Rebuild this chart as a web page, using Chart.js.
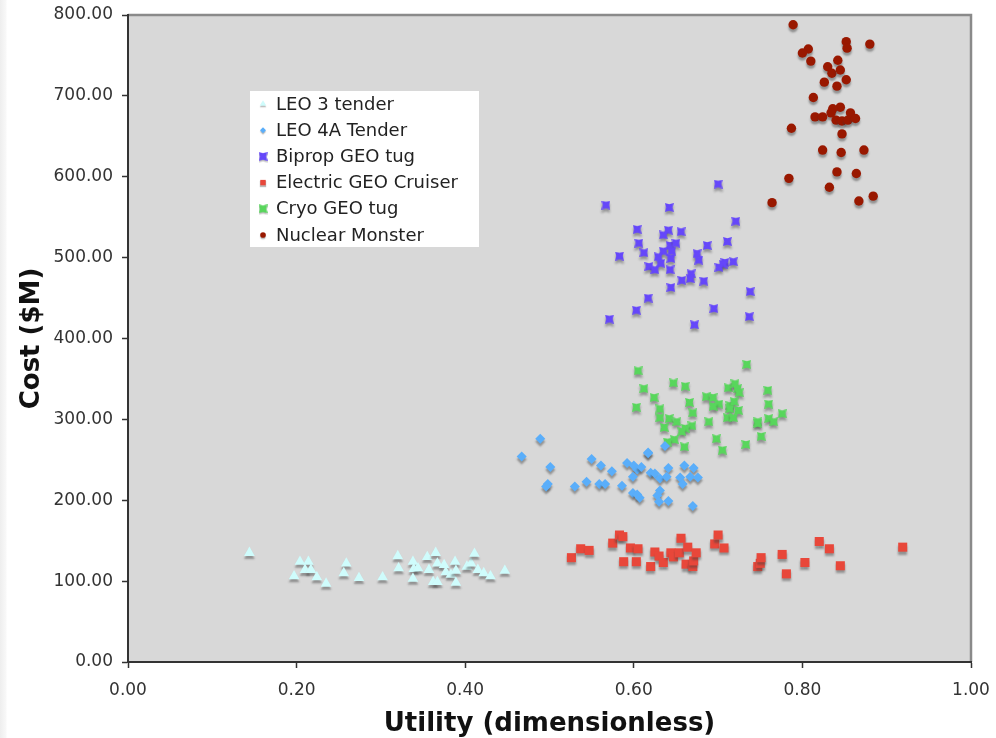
<!DOCTYPE html>
<html>
<head>
<meta charset="utf-8">
<script src="https://cdn.jsdelivr.net/npm/chart.js@4.4.1/dist/chart.umd.min.js"></script>
<style>
    html, body {
        margin: 0;
        padding: 0;
        background: linear-gradient(to right, #eeeeee 0px, #f8f8f8 6px, #ffffff 7px);
    }
    #wrap {
        width: 996px;
        height: 738px;
    }
</style>
</head>
<body>
<div id="wrap"><canvas id="chart" width="996" height="738"></canvas></div>
<script>
// [utility, cost in $M] for each architecture
const leo3Tender = [
    [0.144, 135], [0.204, 124], [0.214, 124], [0.197, 106], [0.210, 114], [0.217, 114],
    [0.224, 105], [0.235, 97], [0.259, 122], [0.256, 110], [0.274, 104], [0.302, 105],
    [0.320, 131], [0.321, 116], [0.338, 124], [0.339, 115], [0.344, 116], [0.338, 103],
    [0.355, 130], [0.357, 114], [0.365, 135], [0.367, 122], [0.362, 99], [0.367, 99],
    [0.375, 120], [0.377, 111], [0.383, 108], [0.388, 124], [0.389, 113], [0.389, 98],
    [0.402, 118], [0.407, 122], [0.411, 134], [0.415, 114], [0.422, 110], [0.430, 106],
    [0.447, 113]
];
const leo4aTender = [
    [0.489, 276], [0.467, 254], [0.501, 241], [0.498, 220], [0.496, 217], [0.530, 217],
    [0.544, 223], [0.550, 251], [0.561, 243], [0.559, 220], [0.566, 220], [0.574, 236],
    [0.586, 218], [0.592, 246], [0.600, 243], [0.604, 238], [0.609, 241], [0.599, 229],
    [0.617, 259], [0.599, 209], [0.604, 207], [0.607, 203], [0.620, 234], [0.625, 233],
    [0.631, 227], [0.641, 240], [0.639, 229], [0.631, 212], [0.628, 206], [0.630, 198],
    [0.641, 199], [0.660, 243], [0.671, 240], [0.655, 228], [0.658, 220], [0.667, 229],
    [0.676, 228], [0.670, 193], [0.637, 267], [0.617, 258]
];
const bipropGeoTug = [
    [0.700, 591], [0.567, 565], [0.642, 562], [0.721, 545], [0.604, 535], [0.641, 534],
    [0.635, 528], [0.656, 532], [0.606, 518], [0.643, 515], [0.650, 518], [0.711, 520],
    [0.687, 515], [0.612, 506], [0.635, 508], [0.645, 508], [0.583, 502], [0.629, 501],
    [0.644, 499], [0.675, 505], [0.677, 497], [0.632, 493], [0.618, 489], [0.625, 485],
    [0.643, 485], [0.708, 494], [0.706, 492], [0.701, 488], [0.718, 495], [0.668, 480],
    [0.667, 474], [0.657, 472], [0.683, 471], [0.644, 463], [0.617, 450], [0.738, 458],
    [0.603, 435], [0.695, 437], [0.571, 424], [0.737, 427], [0.672, 417]
];
const electricGeoCruiser = [
    [0.526, 129], [0.537, 140], [0.547, 138], [0.575, 147], [0.583, 157], [0.587, 155],
    [0.588, 124], [0.596, 141], [0.603, 124], [0.605, 140], [0.620, 118], [0.625, 136],
    [0.630, 131], [0.635, 123], [0.644, 135], [0.647, 130], [0.654, 135], [0.656, 153],
    [0.662, 121], [0.664, 142], [0.670, 118], [0.671, 125], [0.674, 135], [0.696, 146],
    [0.700, 157], [0.707, 141], [0.747, 118], [0.750, 122], [0.751, 129], [0.776, 133],
    [0.781, 109], [0.803, 123], [0.820, 149], [0.832, 140], [0.845, 119], [0.919, 142]
];
const cryoGeoTug = [
    [0.605, 360], [0.612, 338], [0.624, 327], [0.603, 315], [0.631, 313], [0.631, 302],
    [0.642, 301], [0.636, 290], [0.647, 345], [0.661, 341], [0.651, 297], [0.666, 321],
    [0.670, 308], [0.669, 292], [0.661, 289], [0.657, 285], [0.648, 275], [0.640, 272],
    [0.660, 266], [0.686, 328], [0.694, 327], [0.701, 319], [0.694, 316], [0.689, 297],
    [0.712, 339], [0.720, 344], [0.723, 338], [0.725, 333], [0.714, 317], [0.719, 322],
    [0.714, 313], [0.724, 311], [0.711, 302], [0.718, 302], [0.734, 368], [0.698, 276],
    [0.705, 262], [0.733, 269], [0.759, 336], [0.760, 319], [0.747, 297], [0.747, 295],
    [0.760, 301], [0.766, 297], [0.751, 279], [0.776, 307]
];
const nuclearMonster = [
    [0.789, 788], [0.852, 767], [0.880, 764], [0.853, 759], [0.807, 758], [0.800, 753],
    [0.810, 743], [0.842, 744], [0.830, 736], [0.835, 728], [0.845, 732], [0.826, 717],
    [0.841, 712], [0.852, 720], [0.813, 698], [0.845, 686], [0.836, 684], [0.834, 679],
    [0.857, 679], [0.815, 674], [0.824, 674], [0.840, 670], [0.847, 669], [0.854, 670],
    [0.863, 672], [0.787, 660], [0.847, 653], [0.824, 633], [0.846, 630], [0.873, 633],
    [0.841, 606], [0.864, 604], [0.784, 598], [0.832, 587], [0.764, 568], [0.867, 570],
    [0.884, 576]
];

const seriesNames = ["LEO 3 tender", "LEO 4A Tender", "Biprop GEO tug", "Electric GEO Cruiser", "Cryo GEO tug", "Nuclear Monster"];
const seriesColors = ["#cffcfc", "#5aaefa", "#6547fa", "#e8473a", "#58d65c", "#991800"];
const yTicks = [0, 100, 200, 300, 400, 500, 600, 700, 800];
const xTicks = [0, 0.2, 0.4, 0.6, 0.8, 1.0];

// squarish "x" marker used by the two GEO tugs
function starMarker(color) {
    const c = document.createElement("canvas");
    c.width = 9;
    c.height = 9;
    const g = c.getContext("2d");
    g.fillStyle = color;
    g.beginPath();
    g.moveTo(0, 0); g.lineTo(4.5, 1.3); g.lineTo(9, 0); g.lineTo(7.7, 4.5);
    g.lineTo(9, 9); g.lineTo(4.5, 7.7); g.lineTo(0, 9); g.lineTo(1.3, 4.5);
    g.closePath();
    g.fill();
    return c;
}

const pointStyles = ["triangle", "rectRot", starMarker(seriesColors[2]), "rect", starMarker(seriesColors[4]), "circle"];
const pointSizes = [6.2, 5, 4.5, 6.4, 4.5, 4.7];
const allSeries = [leo3Tender, leo4aTender, bipropGeoTug, electricGeoCruiser, cryoGeoTug, nuclearMonster];

const datasets = allSeries.map((pts, i) => ({
    label: seriesNames[i],
    data: pts.map(p => ({ x: p[0], y: p[1] })),
    backgroundColor: seriesColors[i],
    borderColor: seriesColors[i],
    borderWidth: 0,
    pointStyle: pointStyles[i],
    pointRadius: pointSizes[i],
    pointHoverRadius: pointSizes[i]
}));

// grey plot area with a thin frame on top and right
const plotFrame = {
    id: "plotFrame",
    beforeDraw(chart) {
        const { ctx, chartArea: a } = chart;
        ctx.save();
        ctx.fillStyle = "#d8d8d8";
        ctx.fillRect(a.left, a.top, a.right - a.left, a.bottom - a.top);
        ctx.strokeStyle = "#8a8a8a";
        ctx.lineWidth = 2.5;
        ctx.beginPath();
        ctx.moveTo(a.left, a.top);
        ctx.lineTo(a.right, a.top);
        ctx.lineTo(a.right, a.bottom);
        ctx.stroke();
        ctx.restore();
    }
};

// soft drop shadow under every marker
const markerShadow = {
    id: "markerShadow",
    beforeDatasetsDraw(chart) {
        const ctx = chart.ctx;
        ctx.save();
        ctx.shadowColor = "rgba(60,60,60,0.45)";
        ctx.shadowOffsetY = 3;
        ctx.shadowBlur = 2;
    },
    afterDatasetsDraw(chart) {
        chart.ctx.restore();
    }
};

// boxed legend sitting inside the plot
const boxLegend = {
    id: "boxLegend",
    afterDatasetsDraw(chart) {
        const ctx = chart.ctx;
        const left = 250, top = 91, w = 229, h = 156;
        ctx.save();
        ctx.fillStyle = "#ffffff";
        ctx.fillRect(left, top, w, h);
        ctx.font = "18px 'DejaVu Sans', Verdana, sans-serif";
        ctx.textBaseline = "middle";
        chart.data.datasets.forEach((ds, i) => {
            const y = top + 13 + i * 26.2;
            ctx.save();
            ctx.shadowColor = "rgba(60,60,60,0.35)";
            ctx.shadowOffsetY = 1.5;
            ctx.shadowBlur = 1;
            ctx.fillStyle = ds.backgroundColor;
            Chart.helpers.drawPoint(ctx, {
                pointStyle: ds.pointStyle,
                radius: ds.pointStyle instanceof HTMLCanvasElement ? 3 : ds.pointRadius * 0.6,
                borderWidth: 0,
                rotation: 0
            }, left + 13, y);
            ctx.restore();
            ctx.fillStyle = "#222222";
            ctx.fillText(ds.label, left + 26, y + 1);
        });
        ctx.restore();
    }
};

const tickFont = { family: "'DejaVu Sans', Verdana, sans-serif", size: 17 };
const titleFont = { family: "'DejaVu Sans', Verdana, sans-serif", size: 26, weight: "bold" };

new Chart(document.getElementById("chart"), {
    type: "scatter",
    data: { datasets },
    options: {
        responsive: false,
        animation: false,
        layout: { padding: { top: 15, right: 25, left: 0, bottom: 0 } },
        plugins: {
            legend: { display: false },
            tooltip: { enabled: false }
        },
        scales: {
            x: {
                type: "linear",
                min: 0,
                max: 1,
                afterBuildTicks(scale) {
                    scale.ticks = xTicks.map(v => ({ value: v }));
                },
                afterFit(scale) {
                    scale.height = 76;
                    scale.paddingLeft = 0;
                    scale.paddingRight = 0;
                },
                ticks: {
                    color: "#333333",
                    font: tickFont,
                    padding: 12,
                    callback: v => Number(v).toFixed(2)
                },
                grid: {
                    drawOnChartArea: false,
                    drawTicks: true,
                    tickLength: 6,
                    tickColor: "#333333",
                    tickWidth: 1.5
                },
                border: { color: "#333333", width: 2 },
                title: {
                    display: true,
                    text: "Utility (dimensionless)",
                    color: "#111111",
                    font: { ...titleFont, lineHeight: 1.05 },
                    padding: { top: 10, bottom: 0 }
                }
            },
            y: {
                type: "linear",
                min: 0,
                max: 800,
                afterBuildTicks(scale) {
                    scale.ticks = yTicks.map(v => ({ value: v }));
                },
                afterFit(scale) {
                    scale.width = 128;
                    scale.paddingTop = 0;
                    scale.paddingBottom = 0;
                },
                ticks: {
                    color: "#333333",
                    font: tickFont,
                    padding: 9,
                    callback: v => Number(v).toFixed(2)
                },
                grid: {
                    drawOnChartArea: false,
                    drawTicks: true,
                    tickLength: 6,
                    tickColor: "#333333",
                    tickWidth: 1.5
                },
                border: { color: "#333333", width: 2 },
                title: {
                    display: true,
                    text: "Cost ($M)",
                    color: "#111111",
                    font: titleFont,
                    padding: { top: 17, bottom: 0 }
                }
            }
        }
    },
    plugins: [plotFrame, markerShadow, boxLegend]
});
</script>
</body>
</html>
